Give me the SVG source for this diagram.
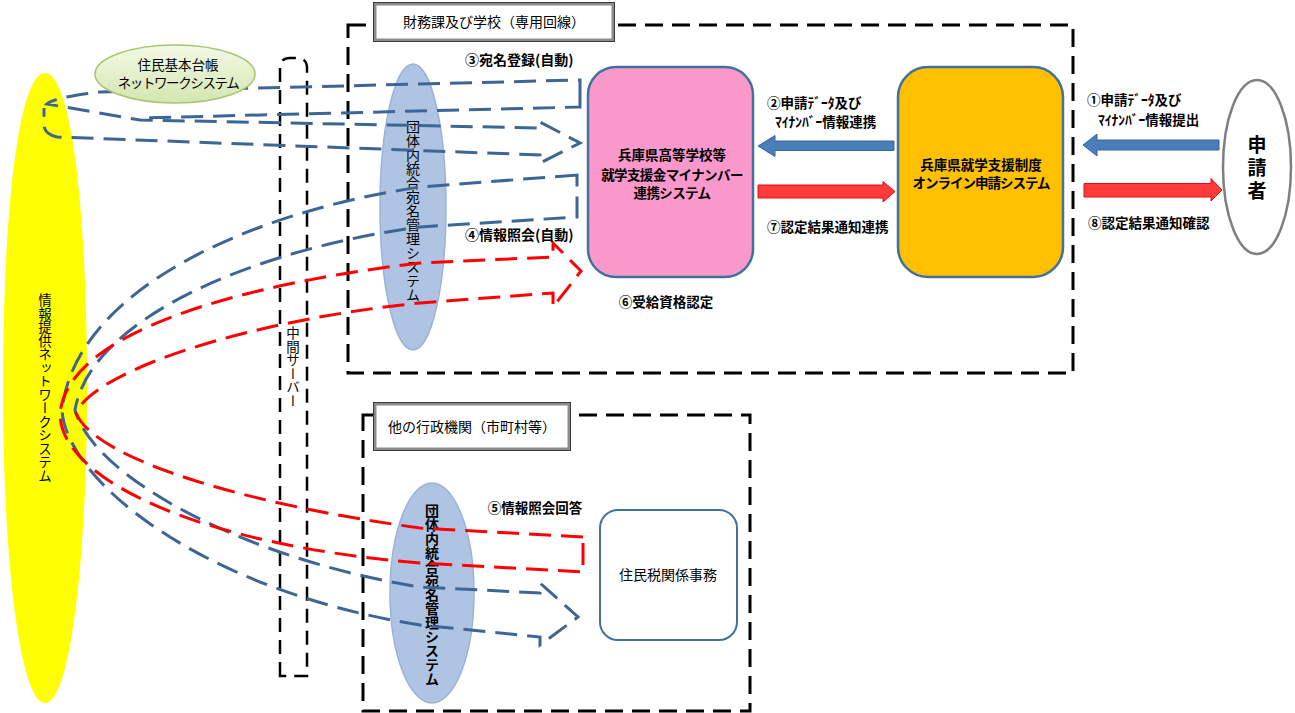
<svg xmlns="http://www.w3.org/2000/svg" width="1295" height="713" viewBox="0 0 1295 713">
<defs>
<linearGradient id="gGreen" x1="0" y1="0" x2="0" y2="1">
<stop offset="0" stop-color="#f4f9e6"/>
<stop offset="1" stop-color="#d3e6b0"/>
</linearGradient>
<style>
.t{font-family:"Noto Sans CJK JP","Noto Sans CJK SC",sans-serif;fill:#000}
.b{font-weight:bold}
.v{writing-mode:vertical-rl}
.dbox{fill:none;stroke:#000;stroke-width:3;stroke-dasharray:18 9}
.srv{fill:none;stroke:#000;stroke-width:2.5;stroke-dasharray:14 8}
.lbl{fill:#fff;stroke:#8c8c8c;stroke-width:3}
.lbl2{fill:none;stroke:#3a3a3a;stroke-width:1}
.blu{fill:none;stroke:#3d6695;stroke-width:3;stroke-dasharray:22 10}
.red{fill:none;stroke:#ff0000;stroke-width:3;stroke-dasharray:22 10}
.aell{fill:#afc4e3;stroke:#9bb3d9;stroke-width:1.5}
.rbox{stroke:#41719c;stroke-width:2.5}
.barrow{fill:#4a7ebb;stroke:#3a6496;stroke-width:1}
.rarrow{fill:#ff3b3b;stroke:#e01010;stroke-width:1}
</style>
</defs>
<rect width="1295" height="713" fill="#fff"/>

<g id="box-finance">
<rect class="dbox" x="348" y="25" width="725" height="348"/>
<rect class="lbl" x="375" y="4" width="238" height="36"/>
<rect class="lbl2" x="373.5" y="2.5" width="241" height="39"/>
<text class="t" x="494" y="27" font-size="14" text-anchor="middle">財務課及び学校（専用回線）</text>
</g>

<g id="box-other">
<rect class="dbox" x="363" y="415" width="387" height="296"/>
<rect class="lbl" x="375" y="404" width="194" height="45"/>
<rect class="lbl2" x="373.5" y="402.5" width="197" height="48"/>
<text class="t" x="472" y="432" font-size="14" text-anchor="middle">他の行政機関（市町村等）</text>
</g>

<g id="server">
<path class="srv" d="M280,676 L280,68 Q280,58 290,58 L297,58 Q307,58 307,68 L307,676 Z"/>
<text class="t v" x="293" y="367" font-size="13.5" text-anchor="middle">中間サーバー</text>
</g>

<g id="info-network">
<path d="M45,73 C70,73 87,200 87,390 C87,560 70,703 45,703 C20,703 3,560 3,390 C3,200 20,73 45,73 Z" fill="#ffff00"/>
<text class="t v" x="45" y="388" font-size="13.5" text-anchor="middle">情報提供ネットワークシステム</text>
</g>

<g id="atena-top">
<ellipse class="aell" cx="413" cy="207" rx="33" ry="143"/>
<text class="t v" x="413" y="211" font-size="14" text-anchor="middle">団体内統合宛名管理システム</text>
</g>

<g id="atena-bottom">
<ellipse class="aell" cx="432" cy="593" rx="42" ry="110"/>
<text class="t v b" x="432" y="595" font-size="14" text-anchor="middle">団体内統合宛名管理システム</text>
</g>

<g id="connectors">
<path class="blu" d="M580,100 L580,80 L100,92 Q55,97 47,104 L140,120 L540,128 L540,122 L580,143 L540,163 L540,155 L57,137 Q45,134 44,126 L44,108"/>
<path class="blu" d="M580,100 L580,107 L140,118"/>
<path class="blu" d="M577,175 L420,187 C250,212 75,290 62,410 C66,480 200,590 420,625 L540,637 L540,645 L578,617 L540,583 L540,593 L420,587 C250,560 95,480 75,410 C90,320 250,250 420,227 L577,217 Z"/>
<path class="red" d="M583,537 L420,528 C250,505 95,460 76,413 C95,370 250,320 420,303 L553,293 L553,307 L581,271 L553,243 L553,257 L420,263 C250,283 65,330 60,415 C62,480 200,545 420,563 L583,572 Z"/>
<path class="barrow" d="M758,146 L775,135.5 L775,141 L894,141 L894,150.5 L775,150.5 L775,156.5 Z"/>
<path class="rarrow" d="M758,185 L883,185 L883,181.5 L895,191.5 L883,202 L883,198 L758,198 Z"/>
<path class="barrow" d="M1083,145 L1097,134 L1097,140 L1219,140 L1219,150 L1097,150 L1097,156 Z"/>
<path class="rarrow" d="M1084,183.5 L1211,183.5 L1211,178.5 L1222,190 L1211,201 L1211,197 L1084,197 Z"/>
</g>

<g id="juki-net">
<ellipse cx="175" cy="74" rx="80" ry="29" fill="url(#gGreen)" stroke="#a9c46c" stroke-width="1.5"/>
<text class="t" x="178" y="70" font-size="13.5" text-anchor="middle">住民基本台帳</text>
<text class="t" x="178" y="88" font-size="13.5" text-anchor="middle" letter-spacing="-1.4">ネットワークシステム</text>
</g>

<g id="mynumber-system">
<rect class="rbox" x="588" y="67" width="165" height="210" rx="28" fill="#fb98cb"/>
<text class="t b" x="672" y="160" font-size="13.5" text-anchor="middle">兵庫県高等学校等</text>
<text class="t b" x="672" y="180" font-size="13.5" text-anchor="middle" letter-spacing="-0.6">就学支援金マイナンバー</text>
<text class="t b" x="672" y="198" font-size="13.5" text-anchor="middle" letter-spacing="-0.6">連携システム</text>
</g>

<g id="online-system">
<rect class="rbox" x="898" y="67" width="165" height="210" rx="30" fill="#ffc000"/>
<text class="t b" x="981" y="170" font-size="13.5" text-anchor="middle">兵庫県就学支援制度</text>
<text class="t b" x="981" y="188" font-size="13.5" text-anchor="middle" letter-spacing="-1">オンライン申請システム</text>
</g>

<g id="applicant">
<ellipse cx="1257" cy="167" rx="34" ry="87" fill="#fff" stroke="#7f7f7f" stroke-width="2.5"/>
<text class="t b v" x="1257" y="170" font-size="19" letter-spacing="4" text-anchor="middle">申請者</text>
</g>

<g id="jumin-tax">
<rect x="600" y="510" width="137" height="130" rx="18" fill="#fff" stroke="#41719c" stroke-width="2"/>
<text class="t" x="668" y="580" font-size="14" text-anchor="middle">住民税関係事務</text>
</g>

<g id="labels">
<text class="t b" x="465" y="65" font-size="14">③宛名登録(自動)</text>
<text class="t b" x="465" y="240" font-size="14">④情報照会(自動)</text>
<text class="t b" x="666" y="307" font-size="13.5" text-anchor="middle">⑥受給資格認定</text>
<text class="t b" x="535" y="513" font-size="13.5" text-anchor="middle">⑤情報照会回答</text>
<text class="t b" x="767" y="108" font-size="13.5">②申請ﾃﾞｰﾀ及び</text>
<text class="t b" x="775" y="127" font-size="13.5">ﾏｲﾅﾝﾊﾞｰ情報連携</text>
<text class="t b" x="767" y="232" font-size="13.5">⑦認定結果通知連携</text>
<text class="t b" x="1087" y="105" font-size="13.5">①申請ﾃﾞｰﾀ及び</text>
<text class="t b" x="1098" y="125" font-size="13.5">ﾏｲﾅﾝﾊﾞｰ情報提出</text>
<text class="t b" x="1088" y="228" font-size="13.5">⑧認定結果通知確認</text>
</g>
</svg>
